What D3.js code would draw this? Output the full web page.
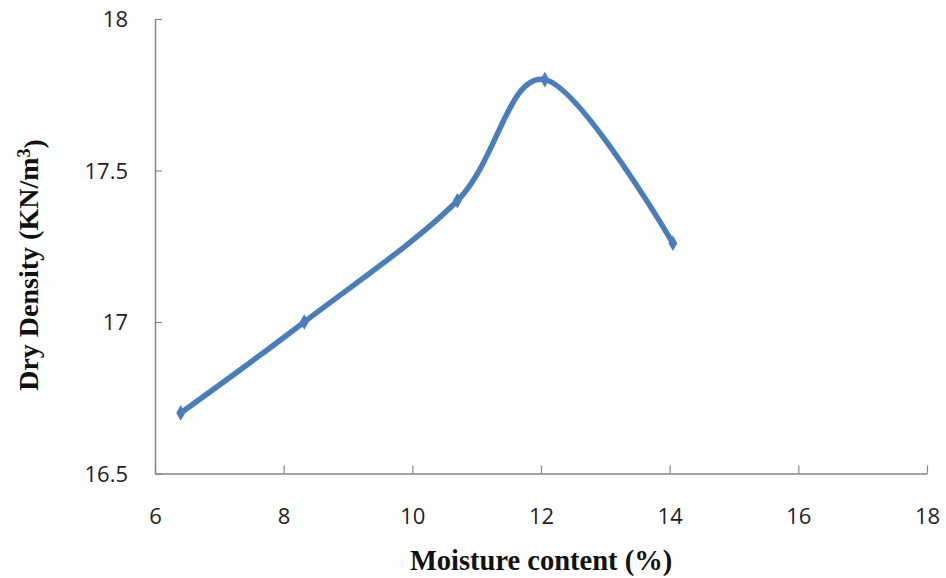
<!DOCTYPE html>
<html><head><meta charset="utf-8">
<script src="https://cdn.jsdelivr.net/npm/d3@7"></script>
<style>body{margin:0;background:#fff}</style>
</head><body>
<svg id="c" width="946" height="578"></svg>
<script>
const moisture = [6.4, 8.32, 10.7, 12.06, 14.05];
const density = [16.7, 17.0, 17.4, 17.8, 17.26];
const xTicks = [6, 8, 10, 12, 14, 16, 18];
const yTicks = [16.5, 17, 17.5, 18];
const xTitle = "Moisture content (%)";
const yTitle = "Dry Density (KN/m";

const svg = d3.select("#c");
const x = d3.scaleLinear().domain([6, 18]).range([155, 927]);
const y = d3.scaleLinear().domain([16.5, 18]).range([473.5, 19]);
const axisColor = "#868686";
const tickFont = "'Open Sans', 'Noto Sans', sans-serif";

const gx = svg.append("g").attr("transform", "translate(0,473.5)")
  .call(d3.axisBottom(x).tickValues(xTicks).tickSizeInner(-8).tickSizeOuter(0).tickPadding(35).tickFormat(d3.format("d")));
const gy = svg.append("g").attr("transform", "translate(155,0)")
  .call(d3.axisLeft(y).tickValues(yTicks).tickSizeInner(-7).tickSizeOuter(0).tickPadding(27).tickFormat(d => d));
[gx, gy].forEach(g => {
  g.select(".domain").attr("stroke", axisColor).attr("stroke-width", 1.5);
  g.selectAll(".tick line").attr("stroke", axisColor).attr("stroke-width", 1.2);
  g.selectAll(".tick text").attr("fill", "#222").style("font-family", tickFont).style("font-size", "22px");
});
gx.selectAll(".tick text").attr("dy", "0.71em");
gy.selectAll(".tick text").attr("dy", "0.35em");

const pts = moisture.map((m, i) => [m, density[i]]);
const line = d3.line().x(d => x(d[0])).y(d => y(d[1])).curve(d3.curveCardinal.tension(0));
svg.append("path").datum(pts).attr("d", line)
  .attr("fill", "none").attr("stroke", "#4a7ebb").attr("stroke-width", 5.5).attr("stroke-linecap", "round");
svg.selectAll(".mk").data(pts).enter().append("path")
  .attr("transform", d => `translate(${x(d[0])},${y(d[1])})`)
  .attr("d", d3.symbol(d3.symbolDiamond, 70)).attr("fill", "#4a7ebb");

const titleFont = "'Liberation Serif', 'DejaVu Serif', serif";
svg.append("text").attr("x", 541).attr("y", 570).attr("text-anchor", "middle")
  .style("font-family", titleFont).style("font-weight", "bold").style("font-size", "28.5px").attr("fill", "#111")
  .text(xTitle);
const yt = svg.append("text").attr("transform", "translate(38,265) rotate(-90)").attr("text-anchor", "middle")
  .style("font-family", titleFont).style("font-weight", "bold").style("font-size", "28px").attr("fill", "#111");
yt.append("tspan").text(yTitle);
yt.append("tspan").attr("dy", "-0.45em").style("font-size", "18px").text("3");
yt.append("tspan").attr("dy", "0.45em").text(")");
</script>
</body></html>
